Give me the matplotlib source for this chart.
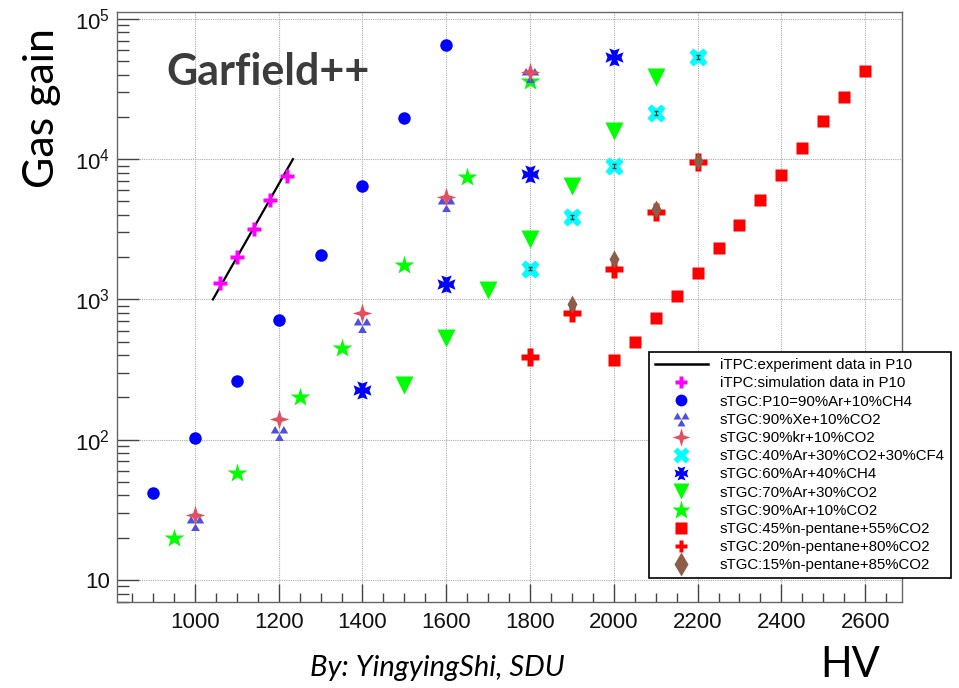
import numpy as np
import matplotlib
matplotlib.use("Agg")
import matplotlib.pyplot as plt
from matplotlib.path import Path
from matplotlib.lines import Line2D
from matplotlib.ticker import FixedLocator, MultipleLocator, NullFormatter

plt.rcParams["font.family"] = ["Liberation Sans", "DejaVu Sans"]
plt.rcParams["mathtext.fontset"] = "custom"
plt.rcParams["mathtext.rm"] = "Liberation Sans"

# data (HV in volts, gas gain)
exp_hv = [1043, 1234]
exp_gain = [1000, 10000]

sim_hv = [1060, 1100, 1140, 1180, 1220]
sim_gain = [1300, 2000, 3200, 5150, 7550]

p10_hv = [900, 1000, 1100, 1200, 1300, 1400, 1500, 1600]
p10_gain = [42, 102, 264, 710, 2060, 6400, 19600, 65000]

xe_hv = [1000, 1200, 1400, 1600, 1800]
xe_gain = [25.5, 112, 660, 4750, 40000]

kr_hv = [1000, 1200, 1400, 1600, 1800]
kr_gain = [29, 141, 800, 5350, 41500]

cf4_hv = [1800, 1900, 2000, 2100, 2200]
cf4_gain = [1660, 3850, 8900, 21300, 53500]

ch4_hv = [1400, 1600, 1800, 2000]
ch4_gain = [227, 1280, 7800, 53500]

ar70_hv = [1500, 1600, 1700, 1800, 1900, 2000, 2100]
ar70_gain = [247, 535, 1160, 2680, 6400, 15800, 38500]

ar90_hv = [950, 1100, 1250, 1350, 1500, 1650, 1800]
ar90_gain = [20, 58, 203, 454, 1750, 7440, 36000]

pent45_hv = [2000, 2050, 2100, 2150, 2200, 2250, 2300, 2350, 2400, 2450, 2500, 2550, 2600]
pent45_gain = [367, 501, 731, 1050, 1534, 2312, 3379, 5094, 7690, 11990, 18680, 27700, 42500]

pent20_hv = [1800, 1900, 2000, 2100, 2200]
pent20_gain = [391, 795, 1660, 4180, 9520]

pent15_hv = [1900, 2000, 2100, 2200]
pent15_gain = [930, 1950, 4400, 9700]

labels = [
    "iTPC:experiment data in P10",
    "iTPC:simulation data in P10",
    "sTGC:P10=90%Ar+10%CH4",
    "sTGC:90%Xe+10%CO2",
    "sTGC:90%kr+10%CO2",
    "sTGC:40%Ar+30%CO2+30%CF4",
    "sTGC:60%Ar+40%CH4",
    "sTGC:70%Ar+30%CO2",
    "sTGC:90%Ar+10%CO2",
    "sTGC:45%n-pentane+55%CO2",
    "sTGC:20%n-pentane+80%CO2",
    "sTGC:15%n-pentane+85%CO2",
]

# custom ROOT-like markers
h = 0.866
tri3 = Path(
    [(-1, 0), (0, 0), (-0.5, h), (-1, 0),
     (0, 0), (1, 0), (0.5, h), (0, 0),
     (-0.5, -h), (0.5, -h), (0, 0), (-0.5, -h)],
    [1, 2, 2, 79] * 3,
)
star4 = [(0, 1), (0.24, 0.24), (1, 0), (0.24, -0.24), (0, -1),
         (-0.24, -0.24), (-1, 0), (-0.24, 0.24)]
w, f, n = 0.28, 0.58, 0.78
maltese = [(-w, w), (-f, 1), (0, n), (f, 1), (w, w),
           (1, f), (n, 0), (1, -f), (w, -w),
           (f, -1), (0, -n), (-f, -1), (-w, -w),
           (-1, -f), (-n, 0), (-1, f)]

fig = plt.figure(figsize=(9.59, 6.88), dpi=100)
ax = fig.add_axes([0.122, 0.125, 0.8186, 0.8576])

ax.plot(exp_hv, exp_gain, color="black", lw=1.6, zorder=3)
ax.plot(sim_hv, sim_gain, ls="none", marker="P", ms=9.5, color="#ff00ff", mec="none", zorder=4)
ax.plot(p10_hv, p10_gain, ls="none", marker="o", ms=9, color="#0000ff", mec="none", zorder=4)
ax.plot(ar90_hv, ar90_gain, ls="none", marker="*", ms=15, color="#00ff00", mec="none", zorder=3)
ax.plot(xe_hv, xe_gain, ls="none", marker=tri3, ms=12.5, color="#5050e0", mec="none", zorder=4)
ax.plot(kr_hv, kr_gain, ls="none", marker=star4, ms=14, color="#e05060", mec="none", zorder=5)
ax.plot(cf4_hv, cf4_gain, ls="none", marker="X", ms=13, color="#00ffff", mec="none", zorder=4)
ax.errorbar(cf4_hv, cf4_gain, yerr=np.array(cf4_gain) * 0.03, fmt="none",
            ecolor="#333333", elinewidth=0.8, capsize=1.5, zorder=5)
ax.plot(ch4_hv, ch4_gain, ls="none", marker=maltese, ms=13, color="#0000ff", mec="none", zorder=4)
ax.plot(ar70_hv, ar70_gain, ls="none", marker="v", ms=13.5, color="#00ff00", mec="none", zorder=4)
ax.plot(pent45_hv, pent45_gain, ls="none", marker="s", ms=9, color="#ff0000", mec="none", zorder=4)
ax.plot(pent20_hv, pent20_gain, ls="none", marker="P", ms=13, color="#ff0000", mec="none", zorder=4)
ax.plot(pent15_hv, pent15_gain, ls="none", marker="d", ms=9, color="#8c5e4a", mec="none", zorder=6)

ax.set_yscale("log")
ax.set_xlim(814, 2688)
ax.set_ylim(6.96, 1.12e5)

ax.xaxis.set_major_locator(MultipleLocator(200))
ax.xaxis.set_minor_locator(MultipleLocator(50))
ax.xaxis.set_minor_formatter(NullFormatter())
ax.yaxis.set_major_locator(FixedLocator([10, 100, 1000, 1e4, 1e5]))
ax.set_yticklabels(["10", "$10^2$", "$10^3$", "$10^4$", "$10^5$"])
minors = [m * 10.0 ** e for e in range(0, 5) for m in range(2, 10)]
ax.yaxis.set_minor_locator(FixedLocator(minors))
ax.yaxis.set_minor_formatter(NullFormatter())

ax.tick_params(axis="both", which="both", direction="in", colors="#444444",
               labelcolor="#111111", labelsize=16, top=False, right=False)
ax.tick_params(axis="x", which="major", length=13, width=1, pad=7)
ax.tick_params(axis="x", which="minor", length=6.5, width=1)
ax.tick_params(axis="y", which="major", length=16, width=1, pad=5)
ax.tick_params(axis="y", which="minor", length=8.5, width=1)
for s in ax.spines.values():
    s.set_color("#666666")
    s.set_linewidth(1)

ax.grid(True, which="major", color="#aaaaaa", linestyle=(0, (1, 1)), lw=0.8)

handles = [
    Line2D([], [], color="black", lw=1.8),
    Line2D([], [], ls="none", marker="P", ms=8.5, color="#ff00ff", mec="none"),
    Line2D([], [], ls="none", marker="o", ms=8.5, color="#0000ff", mec="none"),
    Line2D([], [], ls="none", marker=tri3, ms=11.5, color="#5050e0", mec="none"),
    Line2D([], [], ls="none", marker=star4, ms=13, color="#e05060", mec="none"),
    Line2D([], [], ls="none", marker="X", ms=12, color="#00ffff", mec="none"),
    Line2D([], [], ls="none", marker=maltese, ms=10, color="#0000ff", mec="none"),
    Line2D([], [], ls="none", marker="v", ms=11, color="#00ff00", mec="none"),
    Line2D([], [], ls="none", marker="*", ms=14, color="#00ff00", mec="none"),
    Line2D([], [], ls="none", marker="s", ms=9, color="#ff0000", mec="none"),
    Line2D([], [], ls="none", marker="P", ms=9, color="#ff0000", mec="none"),
    Line2D([], [], ls="none", marker="d", ms=12, color="#8c5e4a", mec="none"),
]
leg = fig.legend(handles, labels, loc="upper left", bbox_to_anchor=(0.677, 0.488),
                 fontsize=10.8, frameon=True, fancybox=False, framealpha=1,
                 edgecolor="black", handlelength=3.5, handletextpad=0.8,
                 labelspacing=0.28, borderpad=0.4, borderaxespad=0)
leg.get_frame().set_linewidth(1.2)
leg.set_zorder(10)

sans = ["Lato", "DejaVu Sans"]
fig.text(0.044, 0.843, "Gas gain", rotation=90, fontsize=31, family=sans,
         ha="center", va="center", color="black")
fig.text(0.28, 0.895, "Garfield++", fontsize=31, family=sans, weight="bold",
         ha="center", va="center", color="#3c3c3c")
fig.text(0.456, 0.029, "By: YingyingShi, SDU", fontsize=21, family=sans,
         style="italic", ha="center", va="center", color="black")
fig.text(0.886, 0.033, "HV", fontsize=30, family=sans, ha="center", va="center",
         color="black")

fig.savefig("out.png", dpi=100)
